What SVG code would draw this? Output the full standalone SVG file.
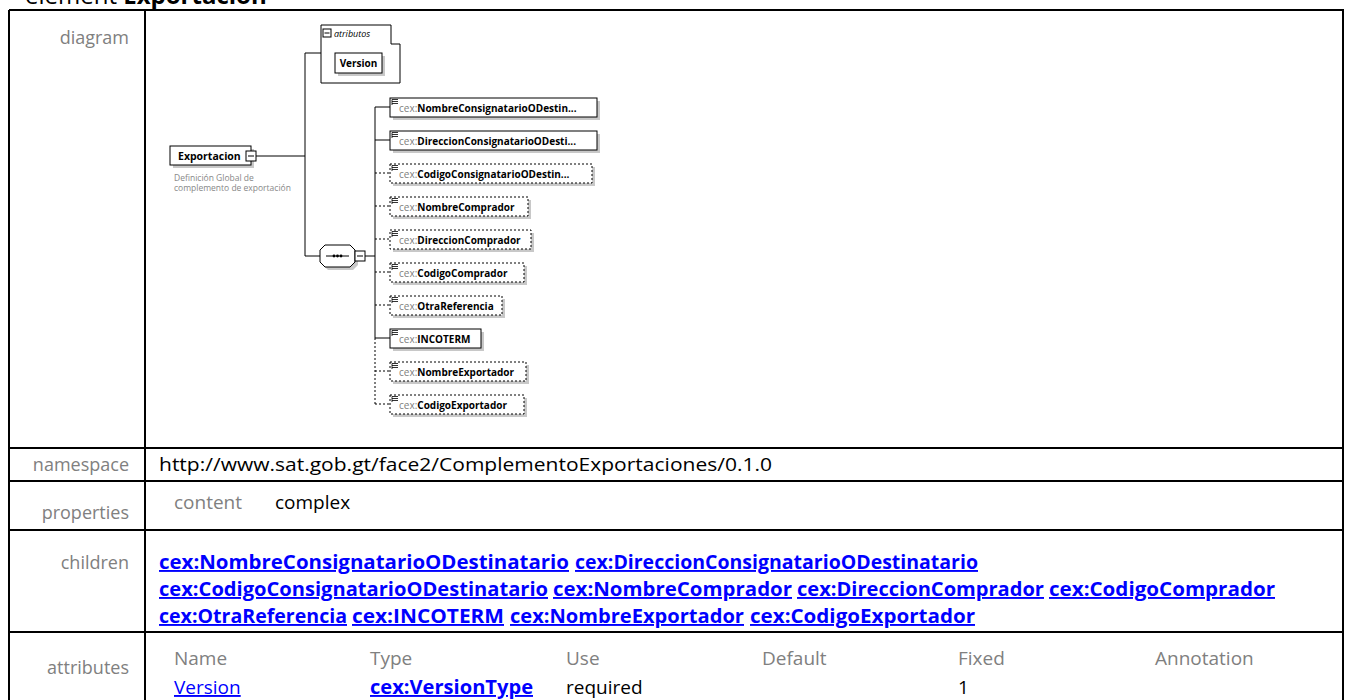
<svg xmlns="http://www.w3.org/2000/svg" width="1351" height="700" viewBox="0 0 1351 700">
<style>
.grid{stroke:#000;stroke-width:2;fill:none}
.lbl{font-family:"Open Sans","Noto Sans",sans-serif;font-size:18px;fill:#808080}
.hdr{font-family:"Open Sans","Noto Sans",sans-serif;font-size:19px;fill:#808080}
.val{font-family:"Open Sans","Noto Sans",sans-serif;font-size:19px;fill:#000}
.lnk{font-family:"Open Sans","Noto Sans",sans-serif;font-size:19px;font-weight:bold;fill:#0000ff;text-decoration:underline}
.lnkn{font-family:"Open Sans","Noto Sans",sans-serif;font-size:19px;fill:#0000ff;text-decoration:underline}
.shadow{fill:#c8c8c8}
.box{fill:#fff;stroke:#000;stroke-width:1}
.dbox{fill:#fff;stroke:#000;stroke-width:1;stroke-dasharray:2 2}
.nm{font-family:"Open Sans","Noto Sans",sans-serif;font-size:10px}
.pre{fill:#808080}
.b{font-weight:bold;fill:#000}
.con{stroke:#000;stroke-width:1;fill:none}
.dcon{stroke:#000;stroke-width:1;fill:none;stroke-dasharray:2 2}
.ico{stroke:#000;stroke-width:0.8;fill:none}
.desc{font-family:"Open Sans","Noto Sans",sans-serif;font-size:8.5px;fill:#888}
</style>
<defs>
<g id="lines-icon"><path class="ico" d="M0,0.5H6M0,2.5H6M0,4.5H6M0,0.5V6"/></g>
</defs>

<text x="25" y="4" style="font-family:'Open Sans','Noto Sans',sans-serif;font-size:24px;fill:#000">element <tspan font-weight="bold">Exportacion</tspan></text>

<g id="table">
<path class="grid" d="M9,10H1343V700M9,10V700M145,10V700M9,448H1343M9,481H1343M9,530H1343M9,632H1343"/>
<text class="lbl" x="129" y="44" text-anchor="end">diagram</text>
<text class="lbl" x="129" y="471" text-anchor="end">namespace</text>
<text class="lbl" x="129" y="519" text-anchor="end">properties</text>
<text class="lbl" x="129" y="569" text-anchor="end">children</text>
<text class="lbl" x="129" y="674" text-anchor="end">attributes</text>
<text class="val" x="159" y="471" textLength="613" lengthAdjust="spacingAndGlyphs">http://www.sat.gob.gt/face2/ComplementoExportaciones/0.1.0</text>
<text class="hdr" x="174" y="509">content</text>
<text class="val" x="275" y="509">complex</text>
<text class="lnk" x="159" y="569" textLength="410" lengthAdjust="spacingAndGlyphs">cex:NombreConsignatarioODestinatario</text>
<text class="lnk" x="575" y="569" textLength="403" lengthAdjust="spacingAndGlyphs">cex:DireccionConsignatarioODestinatario</text>
<text class="lnk" x="159" y="596" textLength="389" lengthAdjust="spacingAndGlyphs">cex:CodigoConsignatarioODestinatario</text>
<text class="lnk" x="553" y="596" textLength="239" lengthAdjust="spacingAndGlyphs">cex:NombreComprador</text>
<text class="lnk" x="797" y="596" textLength="247" lengthAdjust="spacingAndGlyphs">cex:DireccionComprador</text>
<text class="lnk" x="1049" y="596" textLength="226" lengthAdjust="spacingAndGlyphs">cex:CodigoComprador</text>
<text class="lnk" x="159" y="623" textLength="188" lengthAdjust="spacingAndGlyphs">cex:OtraReferencia</text>
<text class="lnk" x="352" y="623" textLength="152" lengthAdjust="spacingAndGlyphs">cex:INCOTERM</text>
<text class="lnk" x="510" y="623" textLength="234" lengthAdjust="spacingAndGlyphs">cex:NombreExportador</text>
<text class="lnk" x="750" y="623" textLength="225" lengthAdjust="spacingAndGlyphs">cex:CodigoExportador</text>
<text class="hdr" x="174" y="665">Name</text>
<text class="hdr" x="370" y="665">Type</text>
<text class="hdr" x="566" y="665">Use</text>
<text class="hdr" x="762" y="665">Default</text>
<text class="hdr" x="958" y="665">Fixed</text>
<text class="hdr" x="1155" y="665">Annotation</text>
<text class="lnkn" x="174" y="694">Version</text>
<text class="lnk" x="370" y="694" textLength="163" lengthAdjust="spacingAndGlyphs">cex:VersionType</text>
<text class="val" x="566" y="694">required</text>
<text class="val" x="958" y="694">1</text>
</g>

<g id="connectors">
<path class="con" d="M256,156H305M305,53V256M305,53H321M305,256H320M365,256H375M375,107V338"/>
<path class="dcon" d="M375,338V404"/>
<path class="con" d="M375,107H390M375,140H390M375,338H390"/>
<path class="dcon" d="M375,173H390M375,206H390M375,239H390M375,272H390M375,305H390M375,371H390M375,404H390"/>
</g>

<g id="node-Exportacion">
<rect class="shadow" x="173" y="149" width="81" height="19"/>
<rect class="box" x="170" y="146" width="81" height="19"/>
<text class="nm b" x="178" y="160" style="font-size:10.5px">Exportacion</text>
<rect class="box" x="246" y="151" width="10" height="10"/>
<path class="con" d="M248,156H254"/>
<text class="desc" x="174" y="181">Definición Global de</text>
<text class="desc" x="174" y="191">complemento de exportación</text>
</g>

<g id="node-atributos">
<path class="box" d="M321,25H391V44H400V83H321Z"/>
<rect class="box" x="323" y="29" width="8" height="8"/>
<path class="con" d="M324.5,33H329.5"/>
<text class="nm" x="334" y="37" style="font-size:9px;font-style:italic;fill:#000">atributos</text>
</g>

<g id="node-Version">
<rect class="shadow" x="338" y="56" width="47" height="20"/>
<rect class="box" x="335" y="53" width="47" height="20"/>
<text class="nm b" x="358.5" y="67" text-anchor="middle">Version</text>
</g>

<g id="node-sequence">
<path class="shadow" d="M328,248H353L358,253V265L353,270H328L323,265V253Z"/>
<path class="box" d="M325,245H350L355,250V262L350,267H325L320,262V250Z"/>
<path class="con" d="M326,256H349"/>
<circle cx="334" cy="256" r="1.4"/><circle cx="337.5" cy="256" r="1.4"/><circle cx="341" cy="256" r="1.4"/>
<rect class="box" x="355" y="251" width="10" height="10"/>
<path class="con" d="M357,256H363"/>
</g>

<g id="node-NombreConsignatarioODestinatario">
<rect class="shadow" x="393" y="101" width="207" height="19"/>
<rect class="box" x="390" y="98" width="207" height="19"/>
<use href="#lines-icon" x="392" y="99"/>
<text class="nm" x="399" y="112"><tspan class="pre">cex:</tspan><tspan class="b">NombreConsignatarioODestin...</tspan></text>
</g>
<g id="node-DireccionConsignatarioODestinatario">
<rect class="shadow" x="393" y="134" width="207" height="19"/>
<rect class="box" x="390" y="131" width="207" height="19"/>
<use href="#lines-icon" x="392" y="132"/>
<text class="nm" x="399" y="145"><tspan class="pre">cex:</tspan><tspan class="b">DireccionConsignatarioODesti...</tspan></text>
</g>
<g id="node-CodigoConsignatarioODestinatario">
<rect class="shadow" x="393" y="167" width="202" height="19"/>
<rect class="dbox" x="390" y="164" width="202" height="19"/>
<use href="#lines-icon" x="392" y="165"/>
<text class="nm" x="399" y="178"><tspan class="pre">cex:</tspan><tspan class="b">CodigoConsignatarioODestin...</tspan></text>
</g>
<g id="node-NombreComprador">
<rect class="shadow" x="393" y="200" width="138" height="19"/>
<rect class="dbox" x="390" y="197" width="138" height="19"/>
<use href="#lines-icon" x="392" y="198"/>
<text class="nm" x="399" y="211"><tspan class="pre">cex:</tspan><tspan class="b">NombreComprador</tspan></text>
</g>
<g id="node-DireccionComprador">
<rect class="shadow" x="393" y="233" width="141" height="19"/>
<rect class="dbox" x="390" y="230" width="141" height="19"/>
<use href="#lines-icon" x="392" y="231"/>
<text class="nm" x="399" y="244"><tspan class="pre">cex:</tspan><tspan class="b">DireccionComprador</tspan></text>
</g>
<g id="node-CodigoComprador">
<rect class="shadow" x="393" y="266" width="134" height="19"/>
<rect class="dbox" x="390" y="263" width="134" height="19"/>
<use href="#lines-icon" x="392" y="264"/>
<text class="nm" x="399" y="277"><tspan class="pre">cex:</tspan><tspan class="b">CodigoComprador</tspan></text>
</g>
<g id="node-OtraReferencia">
<rect class="shadow" x="393" y="299" width="112" height="19"/>
<rect class="dbox" x="390" y="296" width="112" height="19"/>
<use href="#lines-icon" x="392" y="297"/>
<text class="nm" x="399" y="310"><tspan class="pre">cex:</tspan><tspan class="b">OtraReferencia</tspan></text>
</g>
<g id="node-INCOTERM">
<rect class="shadow" x="393" y="332" width="91" height="19"/>
<rect class="box" x="390" y="329" width="91" height="19"/>
<use href="#lines-icon" x="392" y="330"/>
<text class="nm" x="399" y="343"><tspan class="pre">cex:</tspan><tspan class="b">INCOTERM</tspan></text>
</g>
<g id="node-NombreExportador">
<rect class="shadow" x="393" y="365" width="136" height="19"/>
<rect class="dbox" x="390" y="362" width="136" height="19"/>
<use href="#lines-icon" x="392" y="363"/>
<text class="nm" x="399" y="376"><tspan class="pre">cex:</tspan><tspan class="b">NombreExportador</tspan></text>
</g>
<g id="node-CodigoExportador">
<rect class="shadow" x="393" y="398" width="134" height="19"/>
<rect class="dbox" x="390" y="395" width="134" height="19"/>
<use href="#lines-icon" x="392" y="396"/>
<text class="nm" x="399" y="409"><tspan class="pre">cex:</tspan><tspan class="b">CodigoExportador</tspan></text>
</g>
</svg>
